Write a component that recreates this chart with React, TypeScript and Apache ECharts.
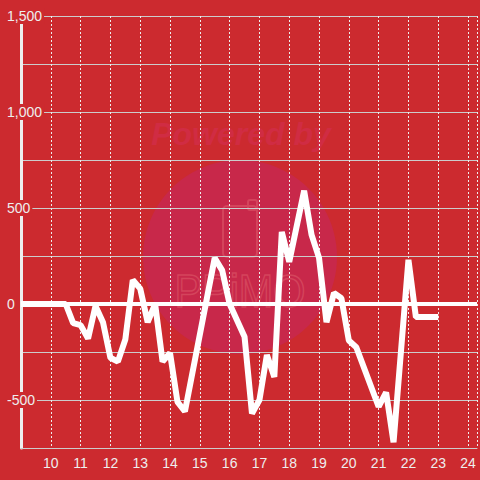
import React, { useEffect, useRef } from 'react';
import * as echarts from 'echarts';

const hours = [9, 10.5, 10.75, 11, 11.25, 11.5, 11.75, 12, 12.25, 12.5, 12.75, 13, 13.25, 13.5, 13.75, 14, 14.25, 14.5, 15.5, 15.75, 16, 16.5, 16.75, 17, 17.25, 17.5, 17.75, 18, 18.5, 18.75, 19, 19.25, 19.5, 19.75, 20, 20.25, 21, 21.25, 21.5, 22, 22.25, 23];
const values = [0, 0, -100, -110, -180, -10, -95, -280, -300, -185, 125, 80, -95, 0, -300, -255, -510, -560, 240, 175, 0, -170, -570, -500, -265, -380, 375, 220, 590, 360, 240, -95, 57, 30, -190, -225, -535, -460, -720, 230, -68, -68];
const xTickLabels = ['10', '11', '12', '13', '14', '15', '16', '17', '18', '19', '20', '21', '22', '23', '24'];
const yLabelValues = [1500, 1000, 500, 0, -500];

export default function App() {
  const ref = useRef<HTMLDivElement>(null);
  useEffect(() => {
    const chart = echarts.init(ref.current as HTMLDivElement, null, { renderer: 'svg' });
    const bg = '#cc2a2f';
    chart.setOption({
      animation: false,
      backgroundColor: bg,
      textStyle: { fontFamily: 'Liberation Sans' },
      grid: { left: 21, right: 0, top: 16, bottom: 32 },
      graphic: [
        { type: 'circle', z: -1, silent: true, shape: { cx: 240, cy: 257, r: 97 }, style: { fill: '#c8284a' } },
        { type: 'text', z: -1, silent: true, x: 241, y: 134, style: { text: 'Powered by', fontSize: 32, fontWeight: 'bold', fontStyle: 'italic', fontFamily: 'Liberation Sans', fill: '#d02c43', align: 'center', verticalAlign: 'middle' } },
        { type: 'rect', z: -1, silent: true, shape: { x: 223, y: 206, width: 34, height: 51, r: 4 }, style: { fill: 'none', stroke: '#d4445c', lineWidth: 2 } },
        { type: 'rect', z: -1, silent: true, shape: { x: 248, y: 200, width: 9, height: 10, r: 2 }, style: { fill: 'none', stroke: '#d4445c', lineWidth: 2 } },
        { type: 'text', z: -1, silent: true, x: 240, y: 291, scaleX: 0.9, style: { text: 'PPiMO', fontSize: 46, fontFamily: 'Liberation Sans', fill: 'none', stroke: '#d4445c', lineWidth: 1.5, align: 'center', verticalAlign: 'middle' } },
      ],
      xAxis: {
        type: 'value',
        min: 9,
        max: 24.3,
        interval: 1,
        axisLine: { show: true, onZero: false, lineStyle: { color: '#cccccc', width: 1 } },
        axisTick: { show: false },
        axisLabel: {
          color: '#eeeeee',
          fontSize: 14,
          margin: 8,
          formatter: (v: number) => (xTickLabels.includes(String(v)) ? String(v) : ''),
        },
        splitLine: { show: true, lineStyle: { color: '#eeeeee', width: 1, type: [2, 2] } },
      },
      yAxis: {
        type: 'value',
        min: -750,
        max: 1500,
        interval: 250,
        axisLine: { show: true, lineStyle: { color: '#eeeeee', width: 3 } },
        axisTick: { show: false },
        axisLabel: {
          color: '#eeeeee',
          fontSize: 14,
          margin: 14,
          align: 'left',
          backgroundColor: bg,
          padding: [1, 2, 1, 0],
          formatter: (v: number) => (yLabelValues.includes(v) ? v.toLocaleString('en-US') : ''),
        },
        splitLine: { show: true, lineStyle: { color: '#cccccc', width: 1 } },
      },
      series: [
        {
          type: 'line',
          data: hours.map((h, i) => [h, values[i]]),
          symbol: 'none',
          showSymbol: false,
          z: 3,
          lineStyle: { color: '#ffffff', width: 6 },
          markLine: {
            silent: true,
            symbol: 'none',
            label: { show: false },
            lineStyle: { color: '#ffffff', width: 4, type: 'solid' },
            data: [{ yAxis: 0 }],
          },
        },
      ],
    });
    return () => chart.dispose();
  }, []);
  return <div ref={ref} style={{ position: 'fixed', left: 0, top: 0, width: 480, height: 480 }} />;
}
